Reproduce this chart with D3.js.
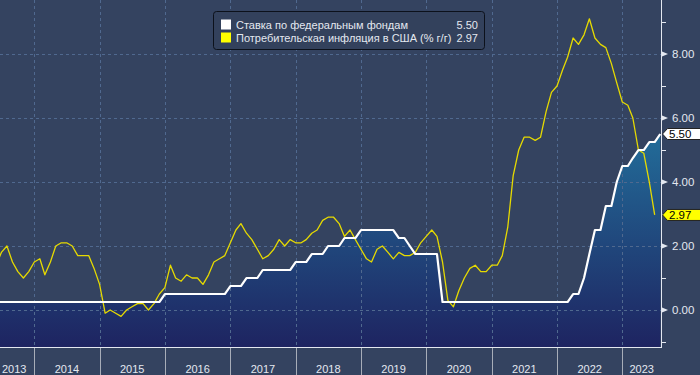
<!DOCTYPE html>
<html>
<head>
<meta charset="utf-8">
<script src="https://cdn.jsdelivr.net/npm/d3@7"></script>
<style>
    html, body { margin: 0; padding: 0; background: #344360; }
    svg { display: block; font-family: "Liberation Sans", Arial, sans-serif; }
</style>
</head>
<body>
<div id="chart"></div>
<script>
// monthly points, each drawn at the end of its month
var months = [
    "2013-05","2013-06","2013-07","2013-08","2013-09","2013-10","2013-11","2013-12",
    "2014-01","2014-02","2014-03","2014-04","2014-05","2014-06","2014-07","2014-08","2014-09","2014-10","2014-11","2014-12",
    "2015-01","2015-02","2015-03","2015-04","2015-05","2015-06","2015-07","2015-08","2015-09","2015-10","2015-11","2015-12",
    "2016-01","2016-02","2016-03","2016-04","2016-05","2016-06","2016-07","2016-08","2016-09","2016-10","2016-11","2016-12",
    "2017-01","2017-02","2017-03","2017-04","2017-05","2017-06","2017-07","2017-08","2017-09","2017-10","2017-11","2017-12",
    "2018-01","2018-02","2018-03","2018-04","2018-05","2018-06","2018-07","2018-08","2018-09","2018-10","2018-11","2018-12",
    "2019-01","2019-02","2019-03","2019-04","2019-05","2019-06","2019-07","2019-08","2019-09","2019-10","2019-11","2019-12",
    "2020-01","2020-02","2020-03","2020-04","2020-05","2020-06","2020-07","2020-08","2020-09","2020-10","2020-11","2020-12",
    "2021-01","2021-02","2021-03","2021-04","2021-05","2021-06","2021-07","2021-08","2021-09","2021-10","2021-11","2021-12",
    "2022-01","2022-02","2022-03","2022-04","2022-05","2022-06","2022-07","2022-08","2022-09","2022-10","2022-11","2022-12",
    "2023-01","2023-02","2023-03","2023-04","2023-05","2023-06","2023-07"
];

// upper bound of the fed funds target range
var fedRate = [
    0.25,0.25,0.25,0.25,0.25,0.25,0.25,0.25,
    0.25,0.25,0.25,0.25,0.25,0.25,0.25,0.25,0.25,0.25,0.25,0.25,
    0.25,0.25,0.25,0.25,0.25,0.25,0.25,0.25,0.25,0.25,0.25,0.50,
    0.50,0.50,0.50,0.50,0.50,0.50,0.50,0.50,0.50,0.50,0.50,0.75,
    0.75,0.75,1.00,1.00,1.00,1.25,1.25,1.25,1.25,1.25,1.25,1.50,
    1.50,1.50,1.75,1.75,1.75,2.00,2.00,2.00,2.25,2.25,2.25,2.50,
    2.50,2.50,2.50,2.50,2.50,2.50,2.25,2.25,2.00,1.75,1.75,1.75,
    1.75,1.75,0.25,0.25,0.25,0.25,0.25,0.25,0.25,0.25,0.25,0.25,
    0.25,0.25,0.25,0.25,0.25,0.25,0.25,0.25,0.25,0.25,0.25,0.25,
    0.25,0.25,0.50,0.50,1.00,1.75,2.50,2.50,3.25,3.25,4.00,4.50,
    4.50,4.75,5.00,5.00,5.25,5.25,5.50
];

// US CPI, % y/y (one month shorter than the rate series)
var cpi = [
    1.4,1.8,2.0,1.5,1.2,1.0,1.2,1.5,
    1.6,1.1,1.5,2.0,2.1,2.1,2.0,1.7,1.7,1.7,1.3,0.8,
    -0.1,0.0,-0.1,-0.2,0.0,0.1,0.2,0.2,0.0,0.2,0.5,0.7,
    1.4,1.0,0.9,1.1,1.0,1.0,0.8,1.1,1.5,1.6,1.7,2.1,
    2.5,2.7,2.4,2.2,1.9,1.6,1.7,1.9,2.2,2.0,2.2,2.1,
    2.1,2.2,2.4,2.5,2.8,2.9,2.9,2.7,2.3,2.5,2.2,1.9,
    1.6,1.5,1.9,2.0,1.8,1.6,1.8,1.7,1.7,1.8,2.1,2.3,
    2.5,2.3,1.5,0.3,0.1,0.6,1.0,1.3,1.4,1.2,1.2,1.4,
    1.4,1.7,2.6,4.2,5.0,5.4,5.4,5.3,5.4,6.2,6.8,7.0,
    7.5,7.9,8.5,8.3,8.6,9.1,8.5,8.3,8.2,7.7,7.1,6.5,
    6.4,6.0,5.0,4.9,4.0,2.97
];

var seriesNames = ["Ставка по федеральным фондам", "Потребительская инфляция в США (% г/г)"];
var lastValues = ["5.50", "2.97"];
var yTicks = [0, 2, 4, 6, 8];
var yMinorTicks = [-1, 1, 3, 5, 7, 9];
var years = [2013, 2014, 2015, 2016, 2017, 2018, 2019, 2020, 2021, 2022, 2023];

var width = 700, height = 375;
var plotRight = 661, plotBottom = 347;
var bg = "#344360";

var parseMonth = d3.timeParse("%Y-%m");
var monthEnd = function(m) { return d3.timeMonth.offset(parseMonth(m), 1); };

var fedData = months.map(function(m, i) { return {date: monthEnd(m), value: fedRate[i]}; });
var cpiData = cpi.map(function(v, i) { return {date: monthEnd(months[i]), value: v}; });

var x = d3.scaleTime()
    .domain([new Date(2014, 0, 1), new Date(2023, 0, 1)])
    .range([34.3, 622.3]);

var y = d3.scaleLinear()
    .domain([-1.156, 9.6875])
    .range([plotBottom, 0]);

var svg = d3.select("#chart").append("svg")
    .attr("width", width)
    .attr("height", height);

svg.append("rect")
    .attr("width", width)
    .attr("height", height)
    .attr("fill", bg);

var defs = svg.append("defs");

defs.append("clipPath")
    .attr("id", "plotClip")
    .append("rect")
    .attr("x", 0)
    .attr("y", 0)
    .attr("width", plotRight)
    .attr("height", plotBottom);

var grad = defs.append("linearGradient")
    .attr("id", "areaFill")
    .attr("gradientUnits", "userSpaceOnUse")
    .attr("x1", 0).attr("x2", 0)
    .attr("y1", 100).attr("y2", plotBottom);
grad.append("stop").attr("offset", 0).attr("stop-color", "#2378a2");
grad.append("stop").attr("offset", 1).attr("stop-color", "#1e2461");

var plot = svg.append("g").attr("clip-path", "url(#plotClip)");

// area under the fed rate
var area = d3.area()
    .x(function(d) { return x(d.date); })
    .y0(plotBottom)
    .y1(function(d) { return y(d.value); });

plot.append("path")
    .datum(fedData)
    .attr("d", area)
    .attr("fill", "url(#areaFill)");

// grid
var yearStarts = years.slice(1).map(function(yr) { return new Date(yr, 0, 1); });

plot.selectAll(".vgrid")
    .data(yearStarts)
    .enter().append("line")
    .attr("class", "vgrid")
    .attr("x1", function(d) { return Math.round(x(d)) + 0.5; })
    .attr("x2", function(d) { return Math.round(x(d)) + 0.5; })
    .attr("y1", 0)
    .attr("y2", plotBottom)
    .attr("stroke", "#50698f")
    .attr("stroke-dasharray", "3,3");

plot.selectAll(".hgrid")
    .data(yTicks)
    .enter().append("line")
    .attr("class", "hgrid")
    .attr("x1", 0)
    .attr("x2", plotRight)
    .attr("y1", function(d) { return Math.round(y(d)) + 0.5; })
    .attr("y2", function(d) { return Math.round(y(d)) + 0.5; })
    .attr("stroke", "#50698f")
    .attr("stroke-dasharray", "3,3");

// lines
var line = d3.line()
    .x(function(d) { return x(d.date); })
    .y(function(d) { return y(d.value); });

plot.append("path")
    .datum(cpiData)
    .attr("d", line)
    .attr("fill", "none")
    .attr("stroke", "#e6da00")
    .attr("stroke-width", 1.3)
    .attr("stroke-linejoin", "round");

plot.append("path")
    .datum(fedData)
    .attr("d", line)
    .attr("fill", "none")
    .attr("stroke", "#ffffff")
    .attr("stroke-width", 2.2)
    .attr("stroke-linejoin", "round");

// frame: bottom and right axis lines
svg.append("line")
    .attr("x1", 0).attr("x2", plotRight + 0.5)
    .attr("y1", plotBottom + 0.5).attr("y2", plotBottom + 0.5)
    .attr("stroke", "#e4e8f0");

svg.append("line")
    .attr("x1", plotRight + 0.5).attr("x2", plotRight + 0.5)
    .attr("y1", 0).attr("y2", plotBottom + 1)
    .attr("stroke", "#e4e8f0");

// y axis ticks on the right
var yAxis = svg.append("g").attr("class", "yaxis");

yAxis.selectAll(".minor")
    .data(yMinorTicks)
    .enter().append("line")
    .attr("class", "minor")
    .attr("x1", plotRight)
    .attr("x2", plotRight + 5)
    .attr("y1", function(d) { return Math.round(y(d)) + 0.5; })
    .attr("y2", function(d) { return Math.round(y(d)) + 0.5; })
    .attr("stroke", "#e4e8f0");

var major = yAxis.selectAll(".major")
    .data(yTicks)
    .enter().append("g")
    .attr("class", "major")
    .attr("transform", function(d) { return "translate(" + plotRight + "," + y(d) + ")"; });

major.append("path")
    .attr("d", "M1,-2.5L7,0L1,2.5Z")
    .attr("fill", "#e4e8f0");

major.append("text")
    .attr("x", 11)
    .attr("dy", "0.36em")
    .attr("fill", "#e4e8f0")
    .style("font-size", "11.5px")
    .text(function(d) { return d3.format(".2f")(d); });

// last value flags
var flags = [
    {value: fedRate[fedRate.length - 1], label: lastValues[0], fill: "#ffffff"},
    {value: cpi[cpi.length - 1], label: lastValues[1], fill: "#ffff00"}
];

var flag = svg.selectAll(".flag")
    .data(flags)
    .enter().append("g")
    .attr("class", "flag")
    .attr("transform", function(d) { return "translate(" + (plotRight + 1) + "," + y(d.value) + ")"; });

flag.append("path")
    .attr("d", "M0.5,0L5.5,-5.5L40,-5.5L40,5.5L5.5,5.5Z")
    .attr("fill", function(d) { return d.fill; })
    .attr("stroke", "#222");

flag.append("text")
    .attr("x", 7)
    .attr("dy", "0.37em")
    .attr("fill", "#000")
    .style("font-size", "11.5px")
    .text(function(d) { return d.label; });

// x axis band: year separators and labels
var xAxis = svg.append("g").attr("class", "xaxis");

xAxis.selectAll(".sep")
    .data(yearStarts)
    .enter().append("line")
    .attr("class", "sep")
    .attr("x1", function(d) { return Math.round(x(d)) + 0.5; })
    .attr("x2", function(d) { return Math.round(x(d)) + 0.5; })
    .attr("y1", plotBottom + 1)
    .attr("y2", height)
    .attr("stroke", "#a7adb8");

xAxis.selectAll(".year")
    .data(years)
    .enter().append("text")
    .attr("class", "year")
    .attr("x", function(yr) {
        var a = Math.max(x(new Date(yr, 0, 1)), -6);
        var b = Math.min(x(new Date(yr + 1, 0, 1)), plotRight);
        return (a + b) / 2;
    })
    .attr("y", 373)
    .attr("text-anchor", "middle")
    .attr("fill", "#e4e8f0")
    .style("font-size", "11px")
    .text(function(yr) { return yr; });

// legend
var legend = svg.append("g").attr("class", "legend");

legend.append("rect")
    .attr("x", 213.5)
    .attr("y", 11.5)
    .attr("width", 271)
    .attr("height", 38)
    .attr("rx", 3)
    .attr("fill", "#33415c")
    .attr("stroke", "#0c111b");

var legendColors = ["#ffffff", "#ffff00"];

var item = legend.selectAll(".item")
    .data(seriesNames)
    .enter().append("g")
    .attr("class", "item")
    .attr("transform", function(d, i) { return "translate(221," + (19.5 + i * 13) + ")"; });

item.append("rect")
    .attr("width", 10)
    .attr("height", 10)
    .attr("fill", function(d, i) { return legendColors[i]; });

item.append("text")
    .attr("x", 15)
    .attr("y", 9)
    .attr("fill", "#e4e8f0")
    .style("font-size", "11px")
    .text(function(d) { return d; });

item.append("text")
    .attr("x", 257)
    .attr("y", 9)
    .attr("text-anchor", "end")
    .attr("fill", "#e4e8f0")
    .style("font-size", "11px")
    .text(function(d, i) { return lastValues[i]; });
</script>
</body>
</html>
